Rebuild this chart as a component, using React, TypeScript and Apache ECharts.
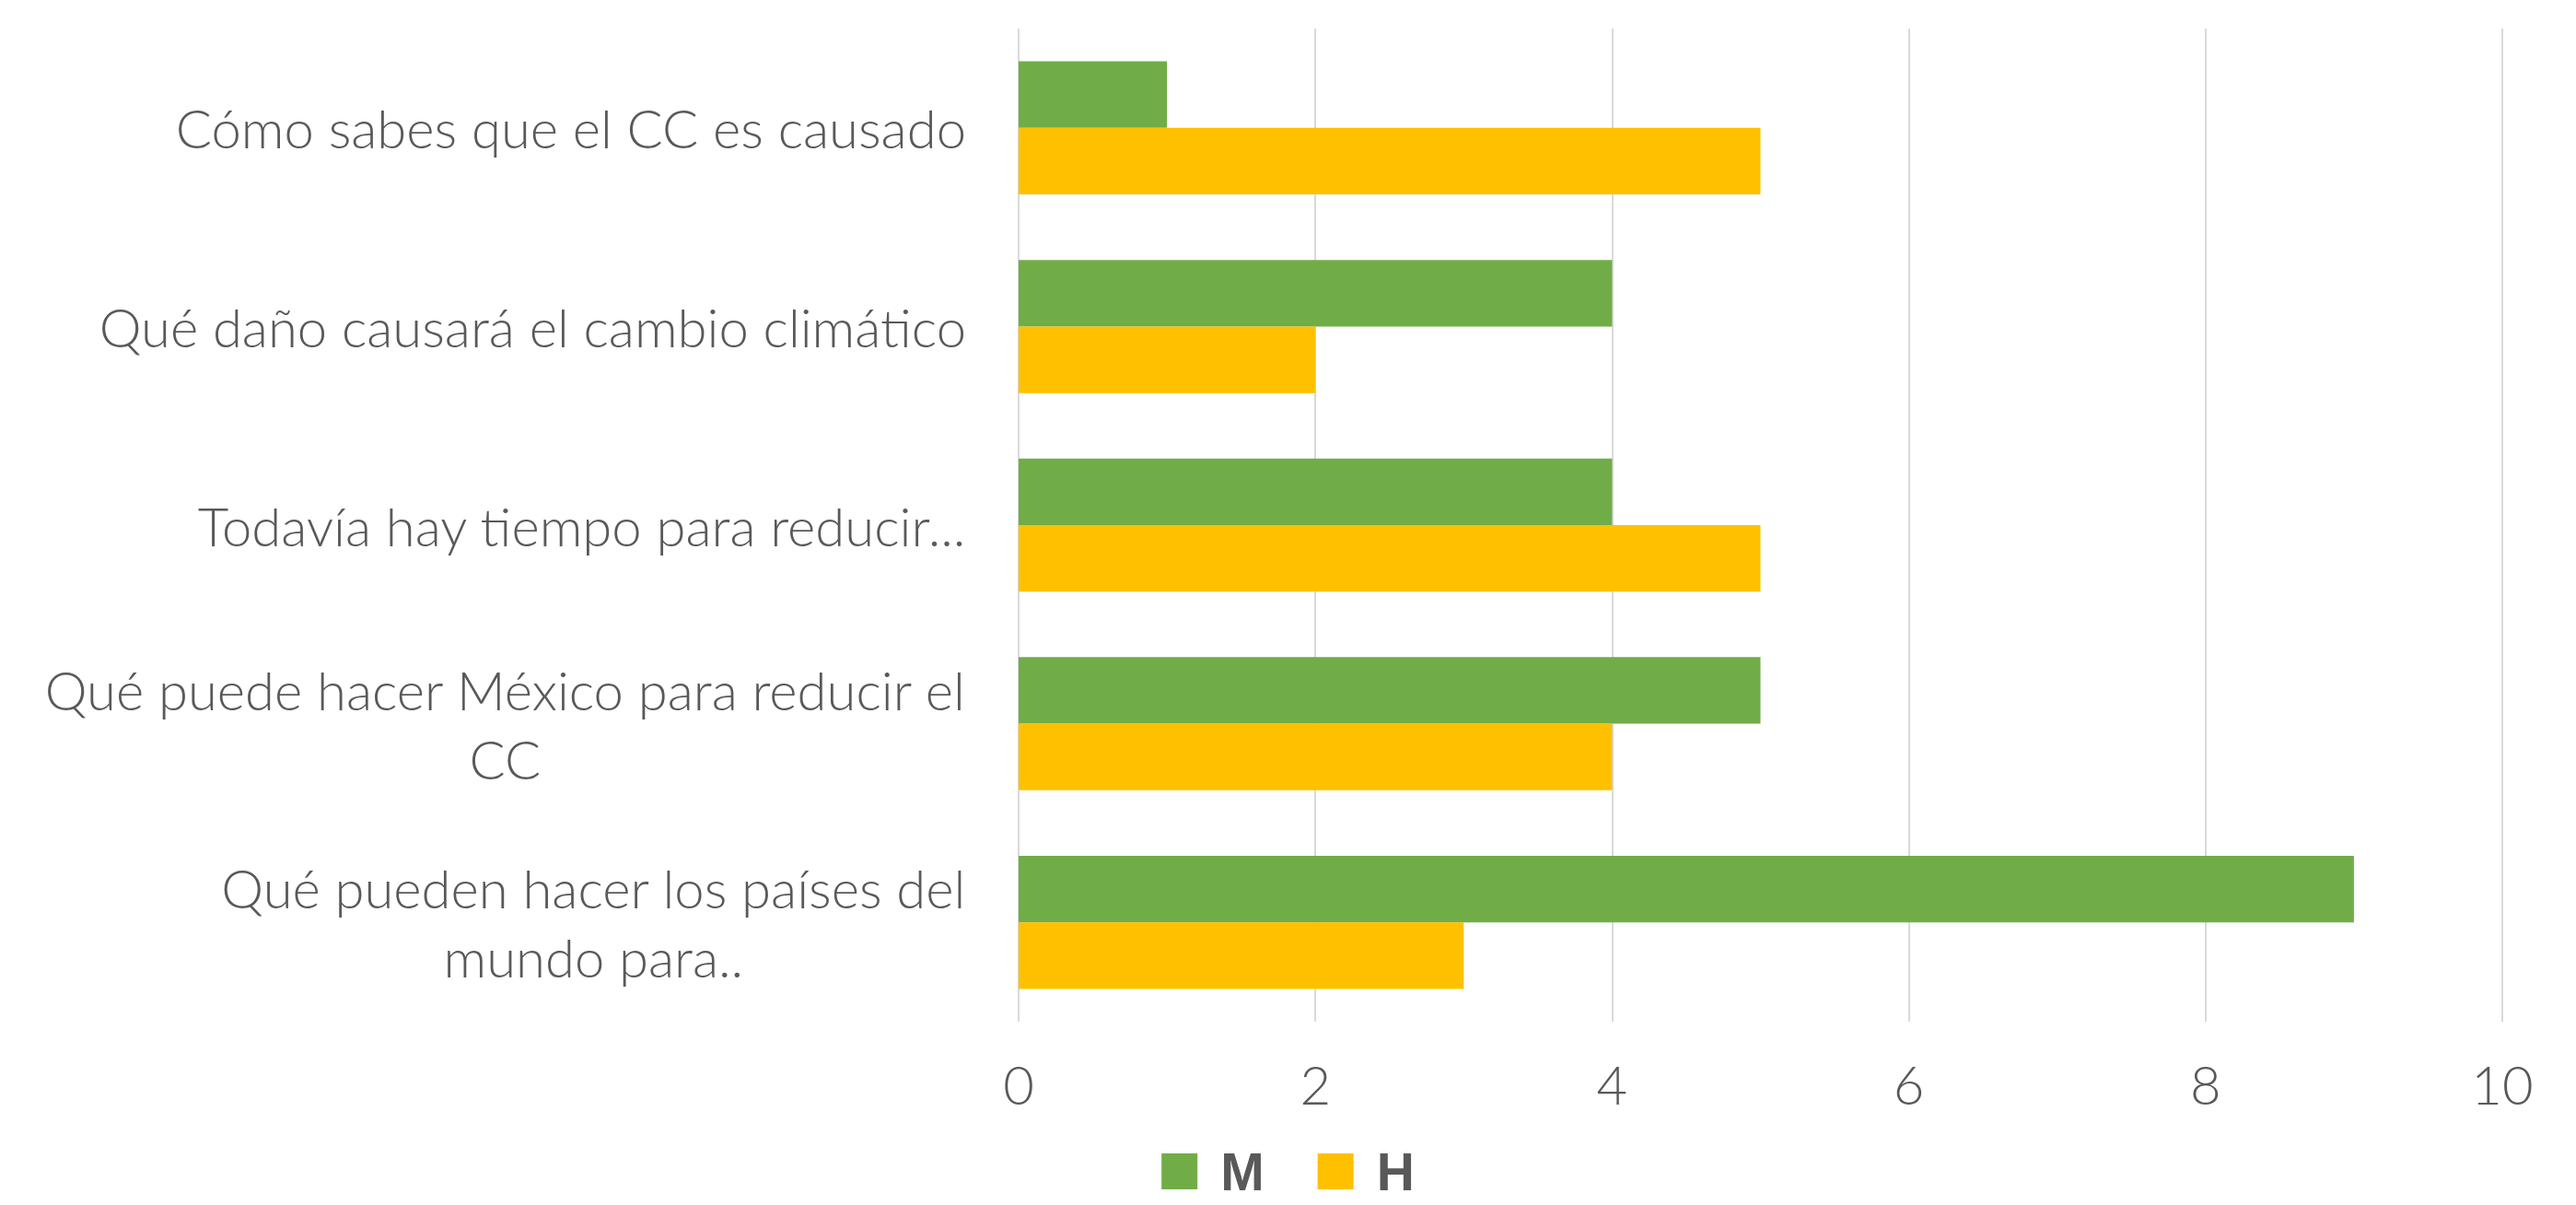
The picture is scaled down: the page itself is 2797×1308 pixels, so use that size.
import React, { useEffect, useRef } from "react";
import * as echarts from "echarts";

const categories = [
  "Cómo sabes que el CC es causado",
  "Qué daño causará el cambio climático",
  "Todavía hay tiempo para reducir...",
  "Qué puede hacer México para reducir el CC",
  "Qué pueden hacer los países del mundo para..",
];
const categoryLabels = [
  ["Cómo sabes que el CC es causado"],
  ["Qué daño causará el cambio climático"],
  ["Todavía hay tiempo para reducir..."],
  ["Qué puede hacer México para reducir el", "CC"],
  ["Qué pueden hacer los países del", "mundo para.."],
];
const seriesNames = ["M", "H"];
const seriesM = [1, 4, 4, 5, 9];
const seriesH = [5, 2, 5, 4, 3];
const xMin = 0;
const xMax = 10;
const xInterval = 2;

const FONT = "Lato";
const TEXT = "#595959";

export default function App() {
  const ref = useRef<HTMLDivElement>(null);
  useEffect(() => {
    const chart = echarts.init(ref.current!, null, { renderer: "svg" });
    chart.setOption({
      animation: false,
      backgroundColor: "#ffffff",
      grid: { left: 1106, right: 80, top: 31, bottom: 199, containLabel: false },
      legend: {
        data: seriesNames,
        left: "center",
        top: 1243,
        padding: 0,
        icon: "rect",
        itemWidth: 39,
        itemHeight: 39,
        itemGap: 58,
        textStyle: {
          fontSize: 57,
          fontWeight: "bold",
          color: TEXT,
          fontFamily: "Liberation Sans",
          padding: [0, 0, 0, 20],
        },
      },
      xAxis: {
        type: "value",
        min: xMin,
        max: xMax,
        interval: xInterval,
        axisLine: { show: false },
        axisTick: { show: false },
        splitLine: { show: true, lineStyle: { color: "#D9D9D9", width: 2 } },
        axisLabel: {
          fontSize: 58,
          color: TEXT,
          margin: 38,
          fontFamily: FONT,
          fontWeight: 300,
        },
      },
      yAxis: {
        type: "category",
        data: categories,
        inverse: true,
        axisLine: { show: false },
        axisTick: { show: false },
        splitLine: { show: false },
        axisLabel: {
          margin: 57,
          formatter: (_v: string, i: number) =>
            categoryLabels[i].map((l) => `{c|${l}}`).join("\n"),
          rich: {
            c: {
              align: "center",
              fontSize: 58,
              lineHeight: 75,
              color: TEXT,
              fontFamily: FONT,
              fontWeight: 300,
            },
          },
        },
      },
      series: [
        {
          name: seriesNames[0],
          type: "bar",
          data: seriesM,
          itemStyle: { color: "#70AD47" },
          barGap: "0%",
          barCategoryGap: "33%",
        },
        {
          name: seriesNames[1],
          type: "bar",
          data: seriesH,
          itemStyle: { color: "#FFC000" },
          barGap: "0%",
          barCategoryGap: "33%",
        },
      ],
    });
    return () => chart.dispose();
  }, []);
  return (
    <div
      ref={ref}
      style={{ position: "fixed", left: 0, top: 0, width: 2797, height: 1308 }}
    />
  );
}
